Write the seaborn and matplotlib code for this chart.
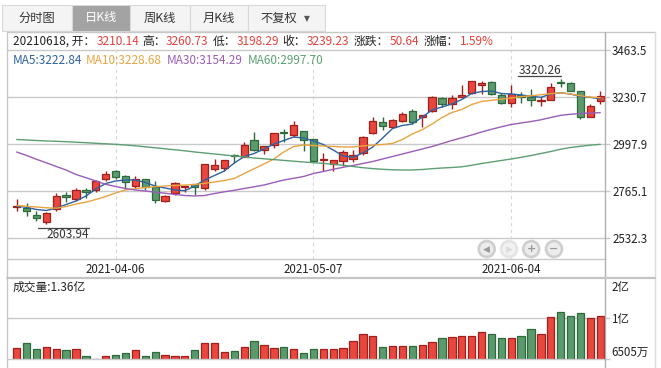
import numpy as np
import pandas as pd
import matplotlib
matplotlib.use('Agg')
import matplotlib.pyplot as plt
from matplotlib.patches import Rectangle, Circle
from matplotlib.lines import Line2D
from matplotlib.transforms import IdentityTransform
import seaborn as sns

# ---------------- data ----------------
dates = ['2021-03-22', '2021-03-23', '2021-03-24', '2021-03-25', '2021-03-26', '2021-03-29', '2021-03-30', '2021-03-31',
         '2021-04-01', '2021-04-02', '2021-04-06', '2021-04-07', '2021-04-08', '2021-04-09', '2021-04-12', '2021-04-13',
         '2021-04-14', '2021-04-15', '2021-04-16', '2021-04-19', '2021-04-20', '2021-04-21', '2021-04-22', '2021-04-23',
         '2021-04-26', '2021-04-27', '2021-04-28', '2021-04-29', '2021-04-30', '2021-05-06', '2021-05-07', '2021-05-10',
         '2021-05-11', '2021-05-12', '2021-05-13', '2021-05-14', '2021-05-17', '2021-05-18', '2021-05-19', '2021-05-20',
         '2021-05-21', '2021-05-24', '2021-05-25', '2021-05-26', '2021-05-27', '2021-05-28', '2021-05-31', '2021-06-01',
         '2021-06-02', '2021-06-03', '2021-06-04', '2021-06-07', '2021-06-08', '2021-06-09', '2021-06-10', '2021-06-11',
         '2021-06-15', '2021-06-16', '2021-06-17', '2021-06-18']
opens = [2686, 2682, 2646, 2612, 2676, 2745, 2729, 2770, 2770, 2828,
         2864, 2842, 2793, 2825, 2788, 2719, 2755, 2786, 2800, 2780,
         2877, 2879, 2942, 2937, 3018, 2968, 2993, 3057, 3043, 3062,
         3023, 2922, 2900, 2915, 2924, 2953, 3052, 3107, 3085, 3115,
         3161, 3132, 3161, 3226, 3196, 3234, 3251, 3293, 3308, 3241,
         3201, 3241, 3232, 3211, 3216, 3307, 3300, 3260, 3135, 3210.14]
highs = [2725, 2706, 2667, 2662, 2755, 2763, 2780, 2780, 2821, 2867,
         2870, 2845, 2839, 2828, 2816, 2746, 2813, 2794, 2801, 2900,
         2924, 2920, 2950, 3009, 3059, 2990, 3056, 3072, 3112, 3065,
         3025, 2956, 2922, 2970, 2970, 3039, 3135, 3132, 3122, 3159,
         3173, 3143, 3237, 3231, 3242, 3290, 3313, 3313, 3312, 3251,
         3290, 3258, 3273, 3231, 3303, 3320.26, 3307, 3263, 3198, 3260.73]
lows = [2667, 2643, 2620, 2603.94, 2668, 2714, 2717, 2730, 2763, 2816,
        2825, 2777, 2783, 2772, 2709, 2710, 2747, 2760, 2747, 2772,
        2867, 2867, 2904, 2935, 2963, 2950, 2978, 3011, 3036, 2963,
        2910, 2867, 2867, 2890, 2912, 2943, 3049, 3069, 3082, 3110,
        3099, 3082, 3158, 3184, 3171, 3231, 3247, 3247, 3242, 3198,
        3184, 3201, 3188, 3189, 3215, 3283, 3260, 3122, 3134, 3198.29]
closes = [2694, 2666, 2631, 2656, 2743, 2735, 2770, 2760, 2815, 2849,
          2835, 2810, 2825, 2788, 2722, 2742, 2805, 2793, 2785, 2899,
          2894, 2919, 2940, 2993, 2968, 2990, 3052, 3054, 3092, 3018,
          2914, 2925, 2920, 2960, 2943, 3033, 3112, 3090, 3117, 3148,
          3110, 3142, 3231, 3196, 3226, 3241, 3310, 3300, 3246, 3204,
          3249, 3234, 3217, 3217, 3283, 3303, 3263, 3132, 3189, 3239.23]
volumes = [0.836, 0.919, 0.820, 0.848, 0.820, 0.804, 0.815, 0.700, 0.656, 0.700,
           0.716, 0.754, 0.804, 0.700, 0.771, 0.721, 0.700, 0.700, 0.804, 0.919,
           0.919, 0.771, 0.787, 0.848, 0.952, 0.881, 0.836, 0.853, 0.815, 0.754,
           0.820, 0.820, 0.820, 0.836, 0.952, 1.062, 1.029, 0.848, 0.864, 0.864,
           0.864, 0.881, 0.935, 0.996, 1.013, 1.029, 1.029, 1.095, 1.062, 0.996,
           0.996, 1.029, 1.144, 1.062, 1.342, 1.424, 1.358, 1.408, 1.325, 1.36]  # 亿
ma5 = [2690.8, 2685.9, 2675.0, 2670.0, 2682.4, 2699.7, 2717.1, 2741.8, 2776.5, 2803.7,
       2816.1, 2821.1, 2821.1, 2808.7, 2791.4, 2781.5, 2771.6, 2768.1, 2791.4, 2821.1,
       2843.4, 2865.7, 2905.3, 2937.5, 2952.3, 2974.6, 2999.4, 3016.7, 3034.1, 3029.1,
       3014.3, 2996.9, 2969.7, 2940.0, 2933.5, 2954.8, 2984.5, 3029.1, 3076.2, 3091.0,
       3098.5, 3133.1, 3167.8, 3182.7, 3197.5, 3219.8, 3249.5, 3259.4, 3261.9, 3249.5,
       3247.0, 3242.1, 3235.7, 3230.7, 3247.0, 3253.0, 3247.0, 3234.7, 3230.7, 3222.84]
ma10 = [2694.8, 2690.8, 2687.4, 2683.4, 2681.4, 2689.8, 2702.2, 2711.1, 2724.5, 2739.4,
        2756.7, 2771.6, 2778.0, 2783.9, 2787.9, 2791.4, 2793.8, 2795.8, 2798.8, 2804.7,
        2811.2, 2818.6, 2828.5, 2853.3, 2877.1, 2900.3, 2925.1, 2959.8, 2987.0, 2994.4,
        2992.0, 2989.5, 2987.0, 2984.5, 2984.5, 2989.5, 2994.4, 2996.9, 3001.9, 3021.7,
        3048.9, 3070.2, 3098.5, 3130.6, 3155.4, 3170.3, 3195.0, 3209.9, 3215.8, 3221.3,
        3227.2, 3233.7, 3238.1, 3243.6, 3248.5, 3253.0, 3247.0, 3238.1, 3231.7, 3228.68]
ma30 = [2959.8, 2942.4, 2923.6, 2906.3, 2888.0, 2870.6, 2848.3, 2832.5, 2816.1, 2799.8,
        2788.9, 2779.0, 2771.6, 2766.6, 2760.7, 2755.7, 2749.3, 2744.3, 2741.8, 2744.3,
        2754.2, 2762.6, 2770.1, 2779.0, 2787.4, 2796.3, 2808.7, 2821.1, 2829.5, 2838.4,
        2853.3, 2863.2, 2874.1, 2884.0, 2892.9, 2902.8, 2912.7, 2925.1, 2937.5, 2949.9,
        2962.2, 2974.6, 2987.0, 3001.9, 3016.7, 3030.1, 3044.0, 3058.8, 3072.2, 3084.6,
        3096.0, 3103.4, 3110.8, 3119.3, 3130.6, 3141.5, 3146.5, 3150.5, 3152.9, 3154.29]
ma60 = [3021.7, 3019.2, 3016.7, 3014.3, 3012.8, 3010.8, 3008.3, 3005.8, 3002.9, 3000.4,
        2997.9, 2994.4, 2990.5, 2985.5, 2980.6, 2975.6, 2970.7, 2965.7, 2959.8, 2954.8,
        2949.9, 2944.9, 2940.0, 2935.0, 2930.1, 2926.1, 2922.1, 2918.2, 2914.2, 2910.2,
        2906.8, 2903.3, 2898.8, 2893.9, 2888.0, 2882.0, 2877.5, 2874.1, 2871.6, 2870.6,
        2870.6, 2873.1, 2877.1, 2880.5, 2883.0, 2886.5, 2893.9, 2902.8, 2910.2, 2917.7,
        2925.1, 2933.5, 2942.4, 2952.3, 2962.2, 2973.6, 2982.1, 2988.0, 2993.5, 2997.70]
last_change = 50.64
last_pct = 1.59
price_ticks = [2532.3, 2765.1, 2997.9, 3230.7, 3463.5]
date_ticks = ['2021-04-06', '2021-05-07', '2021-06-04']
vol_top, vol_bottom = 2.0, 0.6505          # 亿
vol_labels = ['2亿', '1亿', '6505万']
tabs = ['分时图', '日K线', '周K线', '月K线', '不复权']
selected_tab = 1

# ---------------- style ----------------
W, H = 661, 368
RED_FILL, RED_EDGE = '#e8473d', '#a21f1b'
GRN_FILL, GRN_EDGE = '#5a9a6c', '#2d6a3c'
MA_COLORS = {'MA5': '#2e62a0', 'MA10': '#e9a440', 'MA30': '#9b5db8', 'MA60': '#5d9f74'}
GRID = '#cacaca'
FRAME = '#c8c8c8'
AXIS = '#b0b0b0'
VAL_RED = '#e8403a'
TXT = '#222222'
FS = 8.3
FS_INFO = 8.5

sns.set_style('white')
plt.rcParams['font.family'] = ['Noto Sans CJK SC', 'DejaVu Sans']

fig = plt.figure(figsize=(W / 100, H / 100), dpi=100)
fig.patch.set_facecolor('white')


def rect(x0, y0, x1, y1):
    return [x0 / W, 1 - y1 / H, (x1 - x0) / W, (y1 - y0) / H]


def fline(x0, y0, x1, y1, **kw):
    fig.add_artist(Line2D([x0 / W, x1 / W], [1 - y0 / H, 1 - y1 / H], transform=fig.transFigure, **kw))


def ftext(px, py, s, **kw):
    return fig.text(px / W, 1 - py / H, s, **kw)


ax_p = fig.add_axes(rect(7.3, 31.7, 605, 259.3))
ax_v = fig.add_axes(rect(7.3, 277.3, 605, 359.3))

n = len(dates)
idx = np.arange(n)
o, h, l, c = map(np.array, (opens, highs, lows, closes))
up = c >= o
edge = np.where(up, RED_EDGE, GRN_EDGE)
fill = np.where(up, RED_FILL, GRN_FILL)
XL = (-0.95, 59.48)

# ---------------- price panel ----------------
for t in price_ticks:
    ax_p.axhline(t, color=GRID, lw=1.0, zorder=1)
tick_pos = [dates.index(d) for d in date_ticks]
for p in tick_pos:
    ax_p.axvline(p, color='#d6d6d6', lw=0.8, ls=(0, (3, 3)), zorder=1)

ax_p.vlines(idx, l, h, colors=edge, lw=1.0, zorder=3)
body_lo = np.minimum(o, c)
body_h = np.maximum(np.abs(c - o), 2.5)
ax_p.bar(idx, body_h, bottom=body_lo, width=0.74, color=fill, edgecolor=edge, linewidth=0.9, zorder=4)

ma_df = pd.DataFrame({
    'idx': np.tile(idx, 4),
    'value': np.concatenate([ma5, ma10, ma30, ma60]),
    'ma': np.repeat(['MA5', 'MA10', 'MA30', 'MA60'], n),
})
sns.lineplot(data=ma_df, x='idx', y='value', hue='ma', palette=MA_COLORS, linewidth=1.0,
             legend=False, ax=ax_p, estimator=None, sort=False, zorder=5)

ax_p.set_xlim(*XL)
ax_p.set_ylim(2428.3, 3555.6)
ax_p.set_xlabel('')
ax_p.set_ylabel('')
ax_p.yaxis.tick_right()
ax_p.set_yticks(price_ticks)
ax_p.set_yticklabels([f'{t:.1f}' for t in price_ticks])
ax_p.set_xticks(tick_pos)
ax_p.set_xticklabels(date_ticks)
ax_p.tick_params(axis='y', length=3.6, width=1.0, color=GRID, pad=1.5, labelsize=FS, labelcolor=TXT)
ax_p.tick_params(axis='x', length=0, pad=3, labelsize=FS, labelcolor=TXT)
for s in ['left', 'top', 'right']:
    ax_p.spines[s].set_visible(False)
ax_p.spines['bottom'].set_color(GRID)
ax_p.spines['bottom'].set_linewidth(1.0)
ax_p.set_facecolor('none')

# ---------------- volume panel ----------------
vol_df = pd.DataFrame({'idx': idx, 'vol': volumes})
sns.barplot(data=vol_df, x='idx', y='vol', hue='idx', order=list(idx), hue_order=list(idx),
            palette=list(fill), dodge=False, width=0.74, saturation=1,
            errorbar=None, legend=False, ax=ax_v, linewidth=0.9, zorder=3)
for cont, ec in zip(ax_v.containers, edge):
    for patch in cont:
        patch.set_edgecolor(ec)
vol_mid = (vol_top + vol_bottom) / 2
ax_v.axhline(vol_mid, color=GRID, lw=1.0, zorder=1)
ax_v.axhline(vol_bottom, color=GRID, lw=1.0, zorder=6, clip_on=False)
ax_v.set_xlim(*XL)
ax_v.set_ylim(vol_bottom, vol_top)
ax_v.set_xlabel('')
ax_v.set_ylabel('')
ax_v.set_xticks([])
ax_v.yaxis.tick_right()
ax_v.set_yticks([vol_bottom, vol_mid])
ax_v.set_yticklabels(['', ''])
ax_v.tick_params(axis='y', length=3.6, width=1.0, color=GRID)
for s in ax_v.spines.values():
    s.set_visible(False)
ax_v.set_facecolor('none')

for lab, py in zip(vol_labels, [288, 320, 352]):
    ftext(611.5, py, lab, fontsize=FS, color=TXT, va='center', ha='left')

# ---------------- frame lines ----------------
fline(7.3, 31.5, 655, 31.5, color=FRAME, lw=1.0)
fline(7.3, 31.5, 7.3, 368, color=FRAME, lw=1.0)
fline(655, 31.5, 655, 368, color='#dddddd', lw=1.0)
fline(605, 31.5, 605, 368, color=AXIS, lw=1.0)
fline(7.3, 277.6, 655, 277.6, color='#c4c4c4', lw=1.6)

# ---------------- toolbar tabs ----------------
tab_x = [(2, 72), (72, 130), (130, 190), (190, 248), (248, 325)]
for i, (lab, (x0, x1)) in enumerate(zip(tabs, tab_x)):
    sel = i == selected_tab
    fig.add_artist(Rectangle((x0 / W, 1 - 30.5 / H), (x1 - x0) / W, 25.5 / H, transform=fig.transFigure,
                             facecolor='#a3a3a3' if sel else '#f4f4f4', edgecolor='#d8d8d8', lw=0.8))
    if i == len(tabs) - 1:
        ftext(260, 18, lab, fontsize=8.8, color='#333333', ha='left', va='center')
        ftext(304, 18.5, '▼', fontsize=5.5, color='#555555', ha='left', va='center', family=['DejaVu Sans'])
    else:
        ftext((x0 + x1) / 2, 18, lab, fontsize=8.8, color='white' if sel else '#333333', ha='center', va='center')

# ---------------- info rows ----------------
last = n - 1
date_str = dates[last].replace('-', '')
info_labels = [f'{date_str}, 开：', '高：', '低：', '收：', '涨跌：', '涨幅：']
info_values = [f'{opens[last]:.2f}', f'{highs[last]:.2f}', f'{lows[last]:.2f}', f'{closes[last]:.2f}',
               f'{last_change:.2f}', f'{last_pct:.2f}%']
label_x = [12.7, 142.7, 212.3, 282.7, 354, 424]
value_x = [96.7, 166, 236.7, 306.7, 390, 460]
for lab, val, lx, vx in zip(info_labels, info_values, label_x, value_x):
    ftext(lx, 41.5, lab, fontsize=FS_INFO, color=TXT, va='center', ha='left')
    ftext(vx, 41.5, val, fontsize=FS_INFO, color=VAL_RED, va='center', ha='left')

ma_last = [('MA5', ma5[last]), ('MA10', ma10[last]), ('MA30', ma30[last]), ('MA60', ma60[last])]
for (name, val), mx in zip(ma_last, [12.7, 86, 166.7, 247.3]):
    ftext(mx, 60, f'{name}:{val:.2f}', fontsize=FS_INFO, color=MA_COLORS[name], va='center', ha='left')
ftext(12.7, 287, f'成交量:{volumes[last]:.2f}亿', fontsize=FS_INFO, color=TXT, va='center', ha='left')

# ---------------- high / low annotations ----------------
fig.canvas.draw()
renderer = fig.canvas.get_renderer()
imax, imin = int(np.argmax(h)), int(np.argmin(l))
t_hi = ax_p.annotate(f'{h[imax]:.2f}', xy=(imax, h[imax]), xytext=(0.3, 6.3), textcoords='offset points',
                     ha='right', va='center', fontsize=FS_INFO, color='#333333')
t_lo = ax_p.annotate(f'{l[imin]:.2f}', xy=(imin, l[imin]), xytext=(0.2, -7.4), textcoords='offset points',
                     ha='left', va='center', fontsize=FS_INFO, color='#333333')
fig.canvas.draw()
bb = t_hi.get_window_extent(renderer)
_, yhi = ax_p.transData.transform((imax, h[imax]))
fig.add_artist(Line2D([bb.x0, bb.x1], [yhi + 3.5, yhi + 3.5], transform=IdentityTransform(), color='#444444', lw=0.9))
bb = t_lo.get_window_extent(renderer)
xlo, ylo = ax_p.transData.transform((imin, l[imin]))
fig.add_artist(Line2D([xlo - 8, bb.x1], [ylo - 3.9, ylo - 3.9], transform=IdentityTransform(), color='#444444', lw=0.9))

# ---------------- navigation buttons ----------------
for k, (cx, sym) in enumerate(zip([486.7, 509, 531.2, 554], ['◀', '▶', '+', '−'])):
    faded = k == 1
    fig.add_artist(Circle((cx, H - 249), 9.3, transform=IdentityTransform(),
                          facecolor='#e4e4e4' if faded else '#cfcfcf', edgecolor='none'))
    fig.add_artist(Circle((cx, H - 249), 6.6, transform=IdentityTransform(),
                          facecolor='#f2f2f2' if faded else '#ececec', edgecolor='none'))
    ftext(cx, 249, sym, fontsize=6.5 if k < 2 else 8, color='#dddddd' if faded else '#9a9a9a',
          ha='center', va='center', family=['DejaVu Sans'], fontweight='bold')

fig.savefig('out.png', dpi=100)
